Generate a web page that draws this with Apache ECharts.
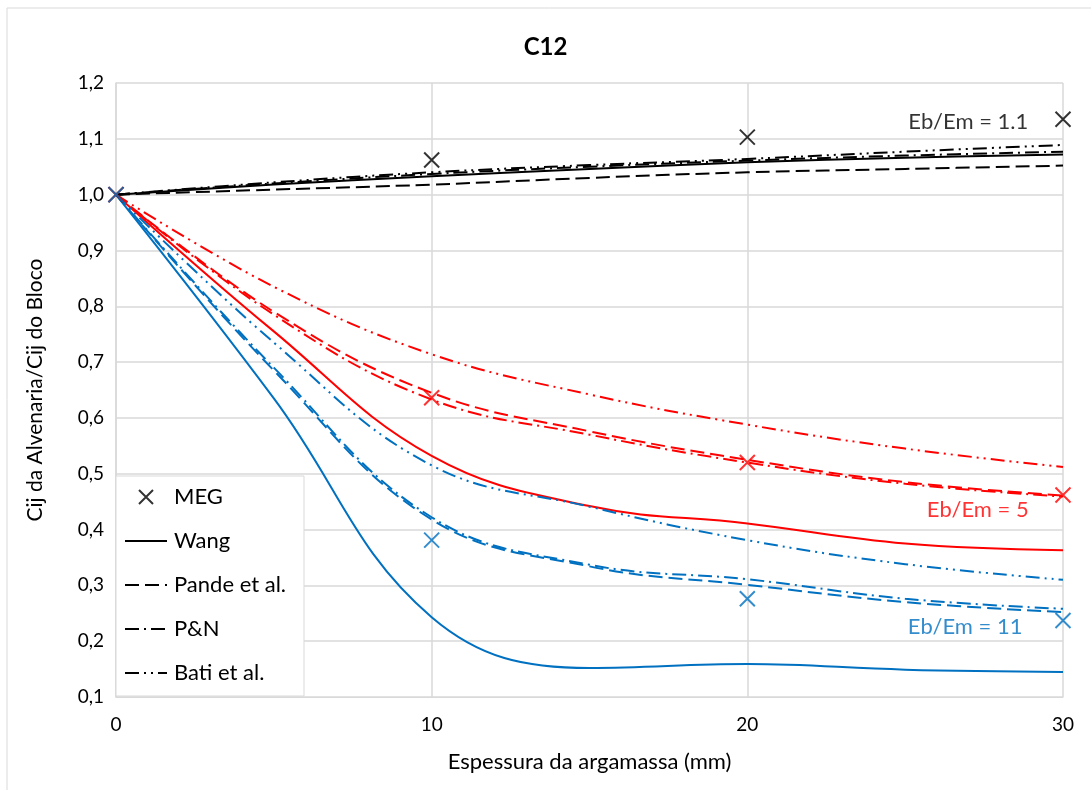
<!DOCTYPE html>
<html>
<head>
<meta charset="utf-8">
<script src="https://cdn.jsdelivr.net/npm/echarts@6/dist/echarts.min.js"></script>
<style>
  html, body { margin: 0; padding: 0; background: #fff; }
  #chart { width: 1091px; height: 790px; }
</style>
</head>
<body>
<div id="chart"></div>
<script>
// espessura da argamassa (mm)
const xMeg = [0, 10, 20, 30];
const xCurve = [0, 5, 10, 15, 20, 25, 30];

// Eb/Em = 1.1 (preto)
const meg11   = [1.0, 1.062, 1.103, 1.135];
const wang11  = [1.0, 1.018, 1.033, 1.046, 1.058, 1.066, 1.072];
const pande11 = [1.0, 1.009, 1.018, 1.030, 1.040, 1.046, 1.052];
const pn11    = [1.0, 1.020, 1.037, 1.050, 1.061, 1.070, 1.077];
const bati11  = [1.0, 1.022, 1.040, 1.053, 1.064, 1.077, 1.089];

// Eb/Em = 5 (vermelho)
const meg5   = [1.0, 0.636, 0.520, 0.462];
const wang5  = [1.0, 0.755, 0.532, 0.442, 0.411, 0.375, 0.363];
const pande5 = [1.0, 0.790, 0.645, 0.576, 0.525, 0.485, 0.461];
const pn5    = [1.0, 0.785, 0.633, 0.570, 0.520, 0.482, 0.459];
const bati5  = [1.0, 0.835, 0.714, 0.642, 0.588, 0.545, 0.512];

// Eb/Em = 11 (azul)
const meg11b   = [1.0, 0.381, 0.276, 0.237];
const wang11b  = [1.0, 0.635, 0.243, 0.152, 0.159, 0.149, 0.145];
const pande11b = [1.0, 0.685, 0.418, 0.334, 0.301, 0.270, 0.252];
const pn11b    = [1.0, 0.690, 0.422, 0.337, 0.311, 0.276, 0.258];
const bati11b  = [1.0, 0.735, 0.515, 0.441, 0.381, 0.338, 0.310];

const legendNames = ['MEG', 'Wang', 'Pande et al.', 'P&N', 'Bati et al.'];
const yTicks = [0.1, 1.2];
const xTicks = [0, 30];

// rótulos Eb/Em: [x, y, texto]
const annotations = [
  [27.0, 1.13, 'Eb/Em = 1.1'],
  [27.3, 0.435, 'Eb/Em = 5'],
  [26.9, 0.225, 'Eb/Em = 11']
];

const FONT = 'Lato, "Open Sans", sans-serif';
const BLACK = '#000000', RED = '#FF0000', BLUE = '#0070C0';
const CROSS = 'path://M0,0L20,20M20,0L0,20';
const dashStyles = {
  'Wang': 'solid',
  'Pande et al.': [14, 6],
  'P&N': [14, 5, 2, 5],
  'Bati et al.': [14, 5, 2, 5, 2, 5]
};

function pts(xs, arr) {
  return xs.map((x, i) => [x, arr[i]]);
}

function curve(name, arr, color) {
  return {
    name: name + ' ' + color,
    type: 'line',
    data: pts(xCurve, arr),
    smooth: 0.4,
    symbol: 'none',
    lineStyle: { color: color, width: 2, type: dashStyles[name] },
    z: 2
  };
}

function meg(arr, color) {
  return {
    name: 'MEG ' + color,
    type: 'scatter',
    data: pts(xMeg, arr),
    symbol: CROSS,
    symbolSize: 15,
    itemStyle: { color: 'none', borderColor: color, borderWidth: 2 },
    z: 5
  };
}

const groups = [
  [BLACK, meg11, wang11, pande11, pn11, bati11],
  [RED, meg5, wang5, pande5, pn5, bati5],
  [BLUE, meg11b, wang11b, pande11b, pn11b, bati11b]
];

let series = [];

// séries só para a legenda (em preto)
series.push({
  name: 'MEG', type: 'scatter', data: [], symbol: CROSS,
  itemStyle: { color: 'none', borderColor: BLACK, borderWidth: 2 }
});
['Wang', 'Pande et al.', 'P&N', 'Bati et al.'].forEach(n => {
  series.push({
    name: n, type: 'line', data: [], symbol: 'circle',
    itemStyle: { color: 'rgba(0,0,0,0)', borderWidth: 0 },
    lineStyle: { color: BLACK, width: 2, type: dashStyles[n] }
  });
});

groups.forEach(g => {
  const c = g[0];
  series.push(curve('Wang', g[2], c));
  series.push(curve('Pande et al.', g[3], c));
  series.push(curve('P&N', g[4], c));
  series.push(curve('Bati et al.', g[5], c));
});
groups.forEach(g => series.push(meg(g[1], g[0])));

const annColors = [BLACK, RED, BLUE];
series.push({
  name: 'labels',
  type: 'scatter',
  silent: true,
  symbolSize: 1,
  itemStyle: { color: 'rgba(0,0,0,0)' },
  data: annotations.map((a, i) => ({
    value: [a[0], a[1]],
    name: a[2],
    label: { color: annColors[i] }
  })),
  label: {
    show: true,
    position: 'inside',
    formatter: '{b}',
    fontSize: 22,
    fontFamily: FONT
  },
  z: 6
});

const chart = echarts.init(document.getElementById('chart'), null, { renderer: 'canvas' });

const option = {
  backgroundColor: '#fff',
  animation: false,
  textStyle: { fontFamily: FONT },
  title: {
    text: 'C12',
    left: 'center',
    top: 30,
    textStyle: { fontSize: 24, fontWeight: 'bold', color: '#000', fontFamily: FONT }
  },
  graphic: [{
    type: 'rect',
    shape: { x: 7, y: 8, width: 1100, height: 800 },
    style: { fill: 'none', stroke: '#d9d9d9', lineWidth: 1 },
    silent: true,
    z: -10
  }],
  legend: {
    data: legendNames,
    orient: 'vertical',
    left: 116,
    top: 476,
    itemWidth: 42,
    itemHeight: 14,
    itemGap: 22,
    padding: [10, 18, 12, 8],
    backgroundColor: '#fff',
    borderColor: '#d9d9d9',
    borderWidth: 1,
    textStyle: { fontSize: 22, color: '#000', fontFamily: FONT, padding: [0, 0, 0, 2] },
    z: 10
  },
  grid: {
    left: 116,
    right: 28,
    top: 83,
    bottom: 93
  },
  xAxis: {
    type: 'value',
    min: xTicks[0],
    max: xTicks[1],
    interval: 10,
    name: 'Espessura da argamassa (mm)',
    nameLocation: 'middle',
    nameGap: 54,
    nameTextStyle: { fontSize: 22, color: '#000', fontFamily: FONT },
    axisLine: { lineStyle: { color: '#d9d9d9', width: 1 } },
    axisTick: { show: false },
    axisLabel: { fontSize: 19, color: '#000', margin: 18, fontFamily: FONT },
    splitLine: { show: true, lineStyle: { color: '#d9d9d9', width: 1.5 } }
  },
  yAxis: {
    type: 'value',
    min: yTicks[0],
    max: yTicks[1],
    interval: 0.1,
    name: 'Cij da Alvenaria/Cij do Bloco',
    nameLocation: 'middle',
    nameGap: 70,
    nameTextStyle: { fontSize: 21, color: '#000', fontFamily: FONT },
    axisLine: { show: true, lineStyle: { color: '#d9d9d9', width: 1.5 } },
    axisTick: { show: false },
    axisLabel: {
      fontSize: 19, color: '#000', margin: 12, fontFamily: FONT,
      formatter: v => v.toFixed(1).replace('.', ',')
    },
    splitLine: { show: true, lineStyle: { color: '#d9d9d9', width: 1.5 } }
  },
  series: series
};

chart.setOption(option);
</script>
</body>
</html>
